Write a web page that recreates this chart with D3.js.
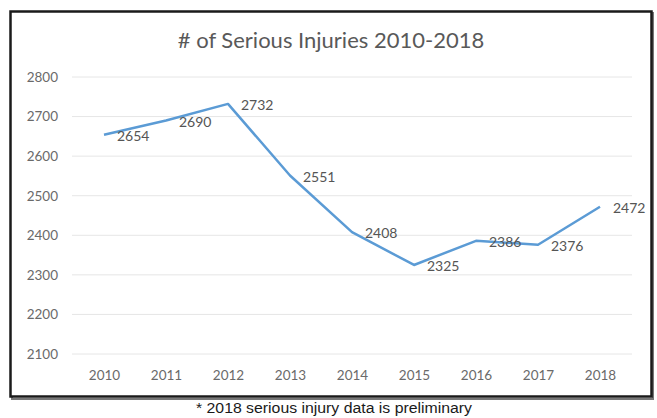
<!DOCTYPE html>
<html><head><meta charset="utf-8">
<script src="https://cdn.jsdelivr.net/npm/d3@7"></script>
<style>body{margin:0;background:#fff}svg{display:block}</style>
</head><body>
<svg id="c" width="657" height="418"></svg>
<script>
const years = ["2010","2011","2012","2013","2014","2015","2016","2017","2018"];
const injuries = [2654, 2690, 2732, 2551, 2408, 2325, 2386, 2376, 2472];
const yTicks = [2100, 2200, 2300, 2400, 2500, 2600, 2700, 2800];
const titleText = "# of Serious Injuries 2010-2018";
const footnote = "* 2018 serious injury data is preliminary";

const svg = d3.select("#c");
const W = 657, H = 418;
svg.append("rect").attr("width", W).attr("height", H).attr("fill", "#fff");
// shadow + frame
svg.append("rect").attr("x", 12).attr("y", 13).attr("width", 641).attr("height", 386)
  .attr("fill", "none").attr("stroke", "#777").attr("stroke-width", 2);
svg.append("rect").attr("x", 10.5).attr("y", 11.5).attr("width", 641).attr("height", 385)
  .attr("fill", "#fff").attr("stroke", "#1a1a1a").attr("stroke-width", 2.5);

const x = d3.scalePoint().domain(years).range([104, 600]);
const y = d3.scaleLinear().domain([2100, 2800]).range([354, 77]);

const font = "Lato, 'Open Sans', sans-serif";
const grid = svg.append("g");
grid.selectAll("line").data(yTicks).join("line")
  .attr("x1", 72).attr("x2", 632)
  .attr("y1", d => y(d)).attr("y2", d => y(d))
  .attr("stroke", "#e6e6e6").attr("stroke-width", 1);

const yAxis = svg.append("g").attr("transform", "translate(62,0)")
  .call(d3.axisLeft(y).tickValues(yTicks).tickSize(0).tickPadding(4).tickFormat(d3.format("d")));
yAxis.select(".domain").remove();
yAxis.selectAll("text").attr("fill", "#6a6a6a").style("font-family", font).style("font-size", "13.5px");

const xAxis = svg.append("g").attr("transform", "translate(0,366)")
  .call(d3.axisBottom(x).tickSize(0).tickPadding(4));
xAxis.select(".domain").remove();
xAxis.selectAll("text").attr("fill", "#6a6a6a").style("font-family", font).style("font-size", "13.5px");

const data = years.map((yr, i) => ({yr, v: injuries[i]}));
svg.append("path").datum(data)
  .attr("fill", "none").attr("stroke", "#5B9BD5").attr("stroke-width", 2.5)
  .attr("stroke-linejoin", "round")
  .attr("d", d3.line().x(d => x(d.yr)).y(d => y(d.v)));

svg.append("g").selectAll("text").data(data).join("text")
  .attr("x", d => x(d.yr) + 13).attr("y", d => y(d.v) + 6)
  .attr("fill", "#555").style("font-family", font).style("font-size", "14px")
  .text(d => d.v);

svg.append("text").attr("x", 331).attr("y", 48).attr("text-anchor", "middle")
  .attr("fill", "#595959").style("font-family", font).style("font-size", "22px")
  .text(titleText);

svg.append("text").attr("x", 334).attr("y", 413).attr("text-anchor", "middle")
  .attr("textLength", 276).attr("lengthAdjust", "spacingAndGlyphs")
  .attr("fill", "#1a1a1a").style("font-family", "'Liberation Sans', Arial, sans-serif").style("font-size", "14px")
  .text(footnote);
</script>
</body></html>
